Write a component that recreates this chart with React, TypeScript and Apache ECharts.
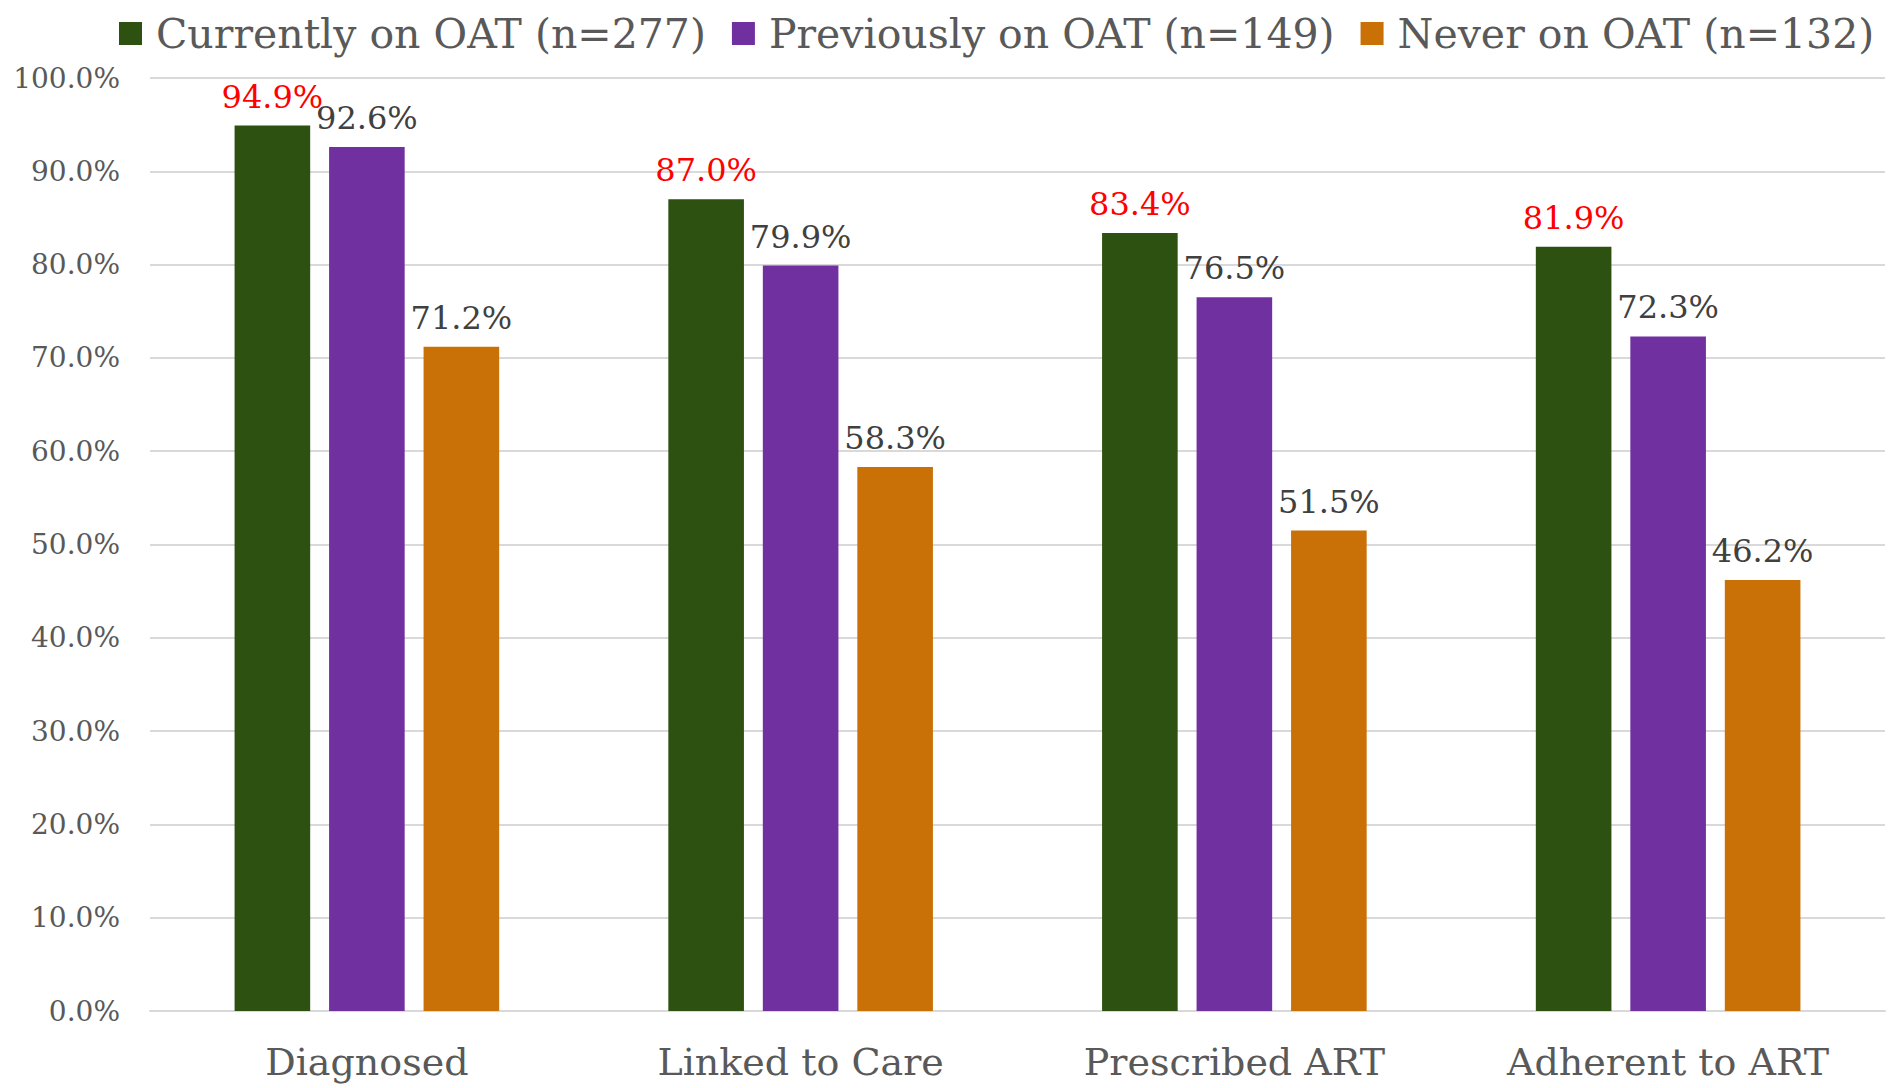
import React, { useEffect, useRef } from "react";
import * as echarts from "echarts";

const categories = ["Diagnosed", "Linked to Care", "Prescribed ART", "Adherent to ART"];
const seriesNames = ["Currently on OAT (n=277)", "Previously on OAT (n=149)", "Never on OAT (n=132)"];
const currentlyValues = [94.9, 87.0, 83.4, 81.9];
const previouslyValues = [92.6, 79.9, 76.5, 72.3];
const neverValues = [71.2, 58.3, 51.5, 46.2];
const seriesColors = ["#2D5111", "#7030A0", "#C97006"];
const labelColors = ["#FF0000", "#404040", "#404040"];

const FONT = "'DejaVu Serif', Georgia, serif";

export default function App() {
  const ref = useRef<HTMLDivElement>(null);
  useEffect(() => {
    if (!ref.current) return;
    const chart = echarts.init(ref.current, undefined, { renderer: "svg" });
    const values = [currentlyValues, previouslyValues, neverValues];
    chart.setOption({
      animation: false,
      backgroundColor: "#FFFFFF",
      textStyle: { fontFamily: FONT },
      legend: {
        left: 114,
        top: 8,
        width: 1775,
        itemWidth: 23,
        itemHeight: 23,
        itemGap: 26,
        icon: "rect",
        textStyle: {
          fontFamily: FONT,
          fontSize: 41,
          color: "#595959",
          padding: [0, 0, 0, 9],
        },
        data: seriesNames,
      },
      grid: { left: 150, right: 4, top: 78, bottom: 77, containLabel: false },
      xAxis: {
        type: "category",
        data: categories,
        axisLine: { show: true, lineStyle: { color: "#D9D9D9", width: 2 } },
        axisTick: { show: false },
        axisLabel: { fontFamily: FONT, fontSize: 38, color: "#595959", margin: 32 },
      },
      yAxis: {
        type: "value",
        min: 0,
        max: 100,
        interval: 10,
        axisLine: { show: false },
        axisTick: { show: false },
        splitLine: { lineStyle: { color: "#D9D9D9", width: 2 } },
        axisLabel: {
          fontFamily: FONT,
          fontSize: 28,
          color: "#595959",
          margin: 30,
          formatter: (v: number) => v.toFixed(1) + "%",
        },
      },
      series: seriesNames.map((name, i) => ({
        name,
        type: "bar",
        data: values[i],
        barGap: "25%",
        barCategoryGap: "39%",
        itemStyle: { color: seriesColors[i] },
        label: {
          show: true,
          position: "top",
          distance: 13,
          fontFamily: FONT,
          fontSize: 32,
          color: labelColors[i],
          formatter: (p: any) => Number(p.value).toFixed(1) + "%",
        },
      })),
    });
    return () => chart.dispose();
  }, []);
  return (
    <div
      ref={ref}
      style={{ position: "absolute", left: 0, top: 0, width: 1889, height: 1088 }}
    />
  );
}
